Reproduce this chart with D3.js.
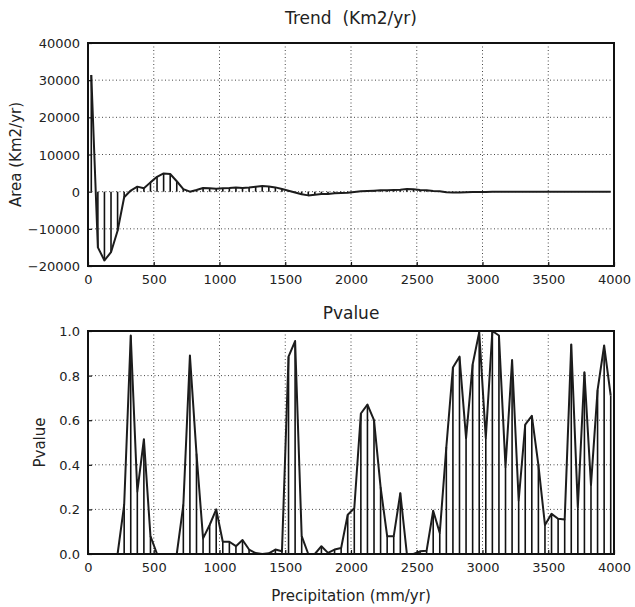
<!DOCTYPE html>
<meta charset="utf-8">
<style>
body { margin: 0; background: #fff; }
text { font-family: "DejaVu Sans", sans-serif; fill: #222; white-space: pre; }
.grid line { stroke: #333; stroke-dasharray: 1,2.5; stroke-width: 0.9; }
.stem { stroke: #111; stroke-width: 1.6; }
.curve { fill: none; stroke: #1c1c1c; stroke-width: 2; stroke-linejoin: round; }
.frame { fill: none; stroke: #111; stroke-width: 2; }
</style>
<body>
<script src="https://d3js.org/d3.v7.min.js"></script>
<script>

// bin centres, 50 mm/yr wide
var precip = d3.range(80).map(function(k) { return 25 + k * 50; });

// trend of area per precipitation bin (Km2/yr)
var trend = [31400, -15000, -18500, -16300, -10500, -1500, 300, 1350, 900, 2500,
             4000, 4900, 4750, 2800, 700, 0, 450, 1000, 900, 800,
             900, 1000, 1150, 1000, 1100, 1350, 1500, 1400, 1150, 700,
             270, -200, -700, -1000, -800, -600, -600, -450, -350, -270,
             -100, 100, 200, 270, 350, 350, 450, 540, 700, 630,
             450, 350, 200, 100, -150, -200, -200, -150, -100, -80,
             -60, -50, -40, -40, -30, -30, -20, -20, -20, -10,
             -10, -10, 0, 0, 0, 0, 10, 10, 10, 10];

// p-value per bin
var pvalue = [0, 0, 0, 0, 0, 0.22, 0.98, 0.28, 0.515, 0.08,
              0, 0, 0, 0, 0.22, 0.89, 0.45, 0.07, 0.13, 0.2,
              0.055, 0.055, 0.035, 0.063, 0.02, 0.004, 0, 0.003, 0.02, 0.012,
              0.885, 0.955, 0.08, 0, 0, 0.035, 0.005, 0.02, 0.027, 0.176,
              0.205, 0.63, 0.67, 0.6, 0.3, 0.08, 0.08, 0.273, 0, 0,
              0.012, 0.015, 0.194, 0.094, 0.48, 0.836, 0.885, 0.52, 0.85, 0.995,
              0.52, 1.0, 0.98, 0.39, 0.87, 0.24, 0.58, 0.62, 0.4, 0.13,
              0.18, 0.158, 0.155, 0.94, 0.21, 0.815, 0.31, 0.735, 0.935, 0.71];

var xTicks = [0, 500, 1000, 1500, 2000, 2500, 3000, 3500, 4000];
var trendTicks = [-20000, -10000, 0, 10000, 20000, 30000, 40000];
var pTicks = [0, 0.2, 0.4, 0.6, 0.8, 1.0];

var svg = d3.select("body").append("svg")
    .attr("width", 635)
    .attr("height", 607);

var x = d3.scaleLinear().domain([0, 4000]).range([88, 614]);

function panel(opts) {
  var y = d3.scaleLinear().domain(opts.domain).range([opts.bottom, opts.top]);
  var g = svg.append("g");
  var w = 614 - 88, h = opts.bottom - opts.top;

  // grid
  var grid = g.append("g").attr("class", "grid");
  grid.selectAll(".vx").data(xTicks.slice(1, -1)).enter().append("line")
      .attr("x1", x).attr("x2", x).attr("y1", opts.top).attr("y2", opts.bottom);
  grid.selectAll(".hy").data(opts.ticks.slice(1, -1)).enter().append("line")
      .attr("x1", 88).attr("x2", 614).attr("y1", y).attr("y2", y);

  // stems + line
  g.selectAll(".stem").data(opts.values).enter().append("line")
      .attr("class", "stem")
      .attr("x1", function(d, i) { return x(precip[i]); })
      .attr("x2", function(d, i) { return x(precip[i]); })
      .attr("y1", y(0))
      .attr("y2", function(d) { return y(d); });
  g.append("path")
      .attr("class", "curve")
      .attr("d", d3.line()
        .x(function(d, i) { return x(precip[i]); })
        .y(function(d) { return y(d); })(opts.values));

  // axes, ticks inward
  var ax = g.append("g").attr("transform", "translate(0," + opts.bottom + ")")
      .call(d3.axisBottom(x).tickValues(xTicks).tickSize(-4).tickPadding(9).tickFormat(d3.format("d")));
  var ay = g.append("g").attr("transform", "translate(88,0)")
      .call(d3.axisLeft(y).tickValues(opts.ticks).tickSize(-4).tickPadding(8).tickFormat(opts.fmt));
  [ax, ay].forEach(function(a) {
    a.select(".domain").remove();
    a.selectAll("line").attr("stroke", "#111").attr("stroke-width", 1.2);
    a.selectAll("text").attr("font-size", 13).attr("fill", "#222")
      .attr("font-family", "DejaVu Sans, sans-serif");
  });
  ay.selectAll("text").attr("dy", "0.35em");

  g.append("rect").attr("class", "frame")
      .attr("x", 88).attr("y", opts.top).attr("width", w).attr("height", h);

  svg.append("text")
      .attr("x", 351).attr("y", opts.titleY)
      .attr("text-anchor", "middle").attr("font-size", 17)
      .text(opts.title);
  svg.append("text")
      .attr("transform", "translate(" + opts.labelX + "," + (opts.top + h / 2) + ") rotate(-90)")
      .attr("text-anchor", "middle").attr("font-size", 15)
      .text(opts.ylabel);
}

panel({ top: 43, bottom: 266, domain: [-20000, 40000], ticks: trendTicks,
        values: trend, fmt: d3.format("d"), title: "Trend  (Km2/yr)", titleY: 24,
        ylabel: "Area (Km2/yr)", labelX: 21 });
panel({ top: 331, bottom: 554, domain: [0, 1], ticks: pTicks,
        values: pvalue, fmt: d3.format(".1f"), title: "Pvalue", titleY: 319,
        ylabel: "Pvalue", labelX: 45 });

svg.append("text")
    .attr("x", 351).attr("y", 601)
    .attr("text-anchor", "middle").attr("font-size", 15)
    .text("Precipitation (mm/yr)");

</script>
</body>
